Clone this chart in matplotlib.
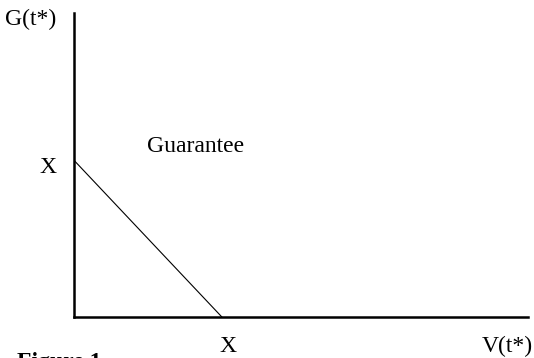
import matplotlib
matplotlib.use("Agg")
import matplotlib.pyplot as plt

# payoff of the guarantee: G = max(X - V, 0), X = 1
v_pts = [0.0, 1.0]
g_pts = [1.0, 0.0]
v_max = 3.07
g_max = 1.94

plt.rcParams['font.family'] = ['Liberation Serif', 'DejaVu Serif']

W, H = 534, 358
fig = plt.figure(figsize=(W / 100, H / 100), dpi=100)
ax = fig.add_axes([74 / W, (H - 317) / H, (528 - 74) / W, (317 - 13) / H])
ax.plot(v_pts, g_pts, color='black', lw=0.8)
ax.set_xlim(0, v_max)
ax.set_ylim(0, g_max)
for s in ['top', 'right']:
    ax.spines[s].set_visible(False)
for s in ['left', 'bottom']:
    ax.spines[s].set_linewidth(1.8)
ax.set_xticks([])
ax.set_yticks([])

fs = 17
fig.text(5 / W, 1 - 19 / H, 'G(t*)', fontsize=fs, va='center', ha='left')
fig.text(56 / W, 1 - 168 / H, 'X', fontsize=fs, va='center', ha='right')
fig.text(147 / W, 1 - 146 / H, 'Guarantee', fontsize=fs, va='center', ha='left')
fig.text(228 / W, 1 - 347 / H, 'X', fontsize=fs, va='center', ha='center')
fig.text(533 / W, 1 - 346 / H, 'V(t*)', fontsize=fs, va='center', ha='right')
fig.text(17 / W, 1 - 363 / H, 'Figure 1', fontsize=fs, fontweight='bold', va='center', ha='left')

fig.savefig('out.png', dpi=100)
